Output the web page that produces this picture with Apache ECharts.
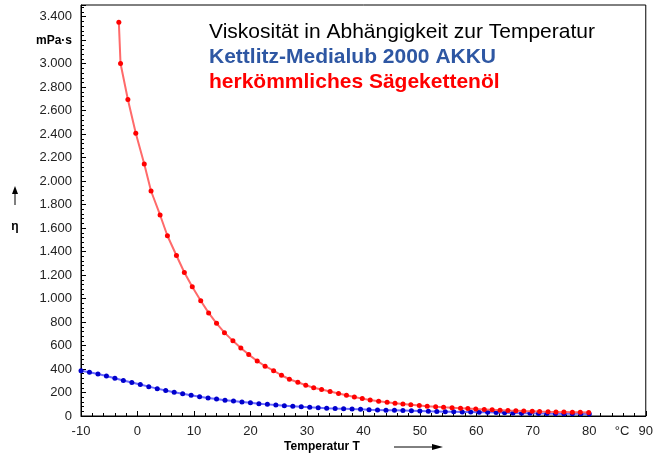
<!DOCTYPE html>
<html>
<head>
<meta charset="utf-8">
<script src="https://cdn.jsdelivr.net/npm/echarts@6/dist/echarts.min.js"></script>
<style>
  html, body { margin: 0; padding: 0; background: #fff; }
  #chart { width: 656px; height: 454px; }
</style>
</head>
<body>
<div id="chart"></div>
<script>
// Kettlitz-Medialub 2000 AKKU (blau)
var akkuTemp = [-10, -8.5, -7, -5.5, -4, -2.5, -1, 0.5, 2, 3.5, 5, 6.5, 8, 9.5, 11, 12.5, 14, 15.5, 17, 18.5,
  20, 21.5, 23, 24.5, 26, 27.5, 29, 30.5, 32, 33.5, 35, 36.5, 38, 39.5, 41, 42.5, 44, 45.5, 47, 48.5,
  50, 51.5, 53, 54.5, 56, 57.5, 59, 60.5, 62, 63.5, 65, 66.5, 68, 69.5, 71, 72.5, 74, 75.5, 77, 78.5, 80];
var akkuVisk = [386, 372, 357, 341, 322, 303, 285, 268, 250, 233, 217, 203, 189, 176, 164, 153, 144, 135, 127, 119,
  112, 105, 99, 93, 88, 83, 78, 74, 71, 67, 64, 62, 59, 57, 54, 52, 50, 48, 46, 44,
  42, 40, 39, 37, 36, 35, 34, 32, 31, 29, 27, 25, 24, 23, 22, 21, 20, 20, 19, 19, 18];

// herkömmliches Sägekettenöl (rot)
var oelTemp = [-3.3, -3.0, -1.7, -0.3, 1.2, 2.4, 4.0, 5.3, 6.9, 8.3, 9.7, 11.2, 12.6, 14.0, 15.4, 16.9, 18.3, 19.7, 21.2, 22.6,
  24.1, 25.5, 26.9, 28.4, 29.8, 31.2, 32.6, 34.1, 35.6, 37.0, 38.4, 39.8, 41.2, 42.7, 44.2, 45.6, 47.0, 48.4, 49.9, 51.3,
  52.8, 54.2, 55.7, 57.2, 58.5, 59.9, 61.4, 62.8, 64.2, 65.6, 67.0, 68.4, 69.9, 71.2, 72.7, 74.1, 75.5, 77.0, 78.4, 79.9];
var oelVisk = [3354, 3002, 2695, 2407, 2146, 1916, 1712, 1535, 1367, 1222, 1100, 982, 878, 789, 710, 640, 580, 523, 469, 424,
  386, 347, 313, 287, 262, 241, 226, 209, 192, 177, 162, 148, 136, 126, 117, 109, 102, 96, 89, 84,
  79, 75, 71, 67, 63, 59, 56, 53, 50, 47, 45, 42, 40, 38, 36, 35, 33, 32, 31, 30];

var titleLines = ['Viskosität in Abhängigkeit zur Temperatur', 'Kettlitz-Medialub 2000 AKKU', 'herkömmliches Sägekettenöl'];

var fontFam = '"Liberation Sans", Arial, sans-serif';

function pairs(xs, ys) {
  var out = [];
  for (var i = 0; i < xs.length; i++) out.push([xs[i], ys[i]]);
  return out;
}

// Tausenderpunkt wie im Original
function fmtNum(v) {
  var s = String(Math.abs(v));
  if (s.length > 3) s = s.slice(0, s.length - 3) + '.' + s.slice(s.length - 3);
  return (v < 0 ? '-' : '') + s;
}

var chart = echarts.init(document.getElementById('chart'), null, { renderer: 'canvas' });

var option = {
  animation: false,
  textStyle: { fontFamily: fontFam },
  grid: {
    left: 81, right: 5, top: 5, bottom: 38,
    show: true, borderColor: '#000', borderWidth: 1, backgroundColor: 'transparent'
  },
  xAxis: {
    type: 'value', min: -10, max: 90, interval: 10,
    axisLine: { onZero: false, lineStyle: { color: '#000', width: 1 } },
    axisTick: { inside: true, length: 5, lineStyle: { color: '#000' } },
    minorTick: { show: true, splitNumber: 5, length: 3, lineStyle: { color: '#000' } },
    splitLine: { show: false },
    axisLabel: { color: '#222', fontSize: 13, margin: 9, fontFamily: fontFam }
  },
  yAxis: {
    type: 'value', min: 0, max: 3500, interval: 200,
    axisLine: { onZero: false, lineStyle: { color: '#000', width: 1 } },
    axisTick: { inside: true, length: 5, lineStyle: { color: '#000' } },
    minorTick: { show: true, splitNumber: 5, length: 3, lineStyle: { color: '#000' } },
    splitLine: { show: false },
    axisLabel: {
      color: '#222', fontSize: 13, margin: 9, fontFamily: fontFam,
      formatter: function (v) {
        if (v === 3200) return '{u|mPa·s}';
        if (v > 3400) return '';
        return fmtNum(v);
      },
      rich: { u: { fontWeight: 'bold', fontSize: 12, color: '#000', fontFamily: fontFam } }
    }
  },
  series: [
    {
      name: 'Kettlitz-Medialub 2000 AKKU',
      type: 'line',
      data: pairs(akkuTemp, akkuVisk),
      symbol: 'circle', symbolSize: 5,
      itemStyle: { color: '#0000cc' },
      lineStyle: { color: '#6a6aff', width: 2 },
      z: 2
    },
    {
      name: 'herkömmliches Sägekettenöl',
      type: 'line',
      data: pairs(oelTemp, oelVisk),
      symbol: 'circle', symbolSize: 5,
      itemStyle: { color: '#ff0000' },
      lineStyle: { color: '#ff6a6a', width: 2 },
      z: 3
    }
  ],
  graphic: [
    { type: 'text', left: 209, top: 22, style: { text: titleLines[0], fill: '#000', font: '21px ' + fontFam } },
    { type: 'text', left: 209, top: 47, style: { text: titleLines[1], fill: '#2e57a3', font: 'bold 21px ' + fontFam } },
    { type: 'text', left: 209, top: 72, style: { text: titleLines[2], fill: '#ff0000', font: 'bold 21px ' + fontFam } },
    // Achsenbeschriftung Y
    { type: 'text', x: 15, y: 227, style: { text: 'η', fill: '#000', font: 'bold 12px ' + fontFam, align: 'center', verticalAlign: 'middle' } },
    { type: 'line', shape: { x1: 15, y1: 205, x2: 15, y2: 192 }, style: { stroke: '#000', lineWidth: 1 } },
    { type: 'polygon', shape: { points: [[15, 186], [12, 194], [18, 194]] }, style: { fill: '#000' } },
    // Achsenbeschriftung X
    { type: 'text', x: 322, y: 447, style: { text: 'Temperatur T', fill: '#000', font: 'bold 12px ' + fontFam, align: 'center', verticalAlign: 'middle' } },
    { type: 'line', shape: { x1: 394, y1: 447, x2: 434, y2: 447 }, style: { stroke: '#000', lineWidth: 1 } },
    { type: 'polygon', shape: { points: [[443, 447], [432, 444], [432, 450]] }, style: { fill: '#000' } },
    { type: 'text', x: 622, y: 431, style: { text: '°C', fill: '#222', font: '13px ' + fontFam, align: 'center', verticalAlign: 'middle' } }
  ]
};

chart.setOption(option);
</script>
</body>
</html>
